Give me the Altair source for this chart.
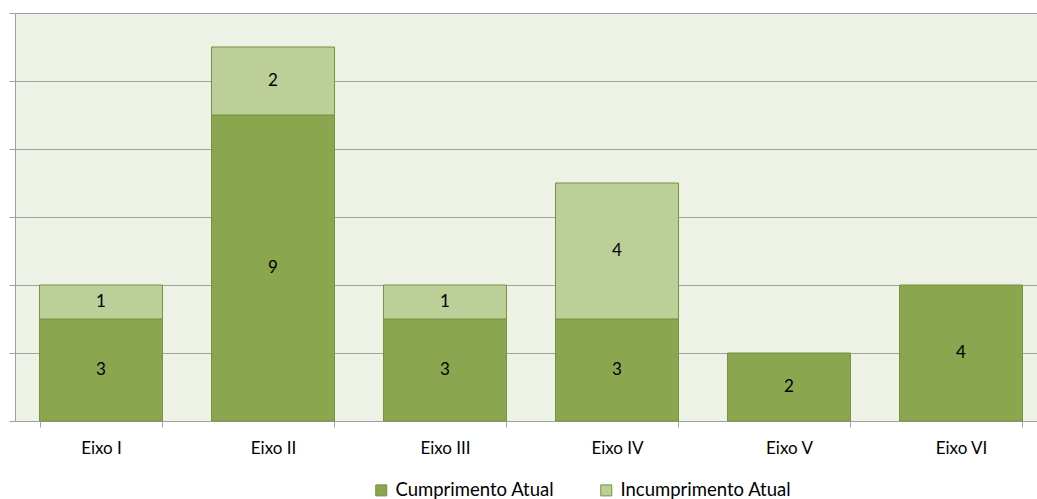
import altair as alt
import pandas as pd

eixos = ["Eixo I", "Eixo II", "Eixo III", "Eixo IV", "Eixo V", "Eixo VI"]
cumprimento = [3, 9, 3, 3, 2, 4]
incumprimento = [1, 2, 1, 4, 0, 0]
series = ["Cumprimento Atual", "Incumprimento Atual"]

rows = []
for e, c, i in zip(eixos, cumprimento, incumprimento):
    if c:
        rows.append({"eixo": e, "serie": series[0], "valor": c, "ordem": 0})
    if i:
        rows.append({"eixo": e, "serie": series[1], "valor": i, "ordem": 1})
df = pd.DataFrame(rows)

FONT = "Lato"

x = alt.X("eixo:N", sort=eixos, title=None,
          scale=alt.Scale(range=[0, 1032], paddingInner=0.285, paddingOuter=0.1425),
          axis=alt.Axis(labelAngle=0, tickBand="extent", domainColor="#a0a0a0", tickColor="#a0a0a0",
                        tickSize=6, labelPadding=13, labelFont=FONT, labelFontSize=17,
                        labelColor="#000000", grid=False))

base = alt.Chart(df).transform_stack(
    stack="valor", groupby=["eixo"], as_=["y0", "y1"], sort=[alt.SortField("ordem", order="ascending")]
).transform_calculate(mid="(datum.y0 + datum.y1) / 2")

bars = base.mark_bar(stroke="#76923c", strokeWidth=1).encode(
    x=x,
    y=alt.Y("y0:Q", title=None,
            scale=alt.Scale(domain=[0, 12], nice=False),
            axis=alt.Axis(values=[0, 2, 4, 6, 8, 10, 12], labels=False, tickSize=6,
                          tickColor="#a0a0a0", domainColor="#a0a0a0", gridColor="#a0a0a0",
                          gridWidth=1.2, grid=True)),
    y2="y1:Q",
    color=alt.Color("serie:N", sort=series,
                    scale=alt.Scale(domain=series, range=["#8aa64e", "#bccf98"]),
                    legend=alt.Legend(title=None, orient="none", direction="horizontal",
                                      legendX=357, legendY=468, symbolType="square",
                                      symbolSize=121, symbolStrokeColor="#76923c",
                                      symbolStrokeWidth=1, labelFont=FONT, labelFontSize=18.5,
                                      labelLimit=400,
                                      labelColor="#000000", columnPadding=42, labelOffset=5)),
)

labels = base.mark_text(font=FONT, fontSize=17, color="#000000", baseline="middle").encode(
    x=alt.X("eixo:N", sort=eixos),
    y=alt.Y("mid:Q"),
    text=alt.Text("valor:Q"),
)

chart = (bars + labels).properties(
    width=1022, height=408,
    autosize=alt.AutoSizeParams(type="none"),
    padding={"left": 15, "top": 13, "right": 0, "bottom": 78},
    view=alt.ViewBackground(fill="#eef2e6", stroke=None),
).configure_view(fill="#eef2e6", stroke=None).configure(background="#ffffff")

chart.save("out.html", embed_options={"renderer": "svg", "actions": False})
